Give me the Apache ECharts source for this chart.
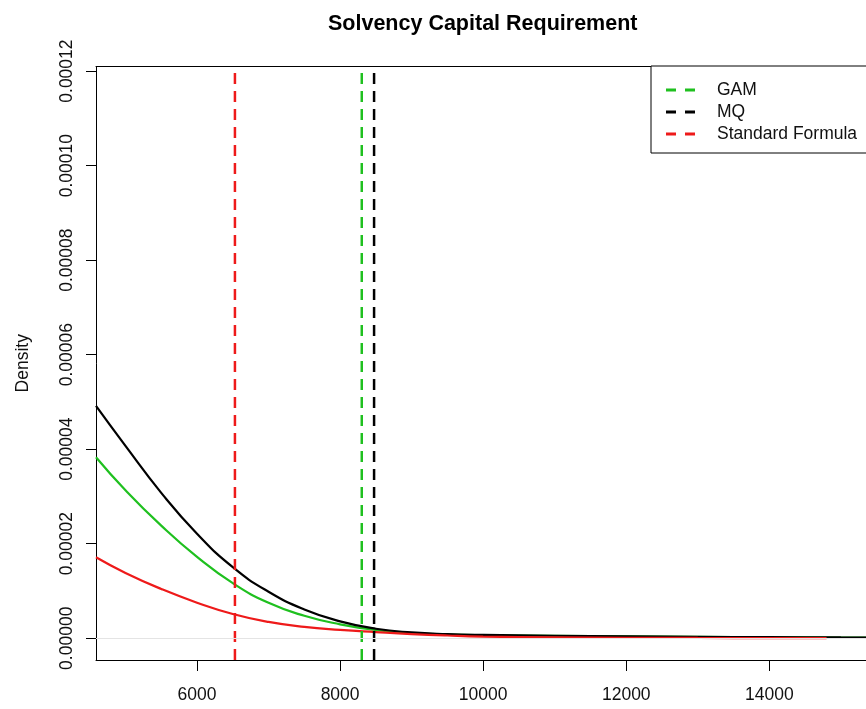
<!DOCTYPE html>
<html>
<head>
<meta charset="utf-8">
<title>Solvency Capital Requirement</title>
<script src="https://cdn.jsdelivr.net/npm/echarts@6/dist/echarts.min.js"></script>
<style>
  html, body { margin: 0; padding: 0; background: #ffffff; }
  #chart { width: 866px; height: 709px; }
</style>
</head>
<body>
<div id="chart"></div>
<script>
// Loss values (x) at which the density curves are sampled
const xGrid = [4588, 5000, 5500, 6000, 6500, 7000, 7500, 8000, 8500, 9000, 9500,
               10000, 11000, 12000, 13000, 14000, 15000, 15351];
// Estimated densities, MQ model
const mqDensity = [4.916e-5, 4.070e-5, 3.077e-5, 2.212e-5, 1.503e-5, 9.84e-6, 6.10e-6,
                   3.58e-6, 2.01e-6, 1.23e-6, 8.7e-7, 7.0e-7, 5.3e-7, 4.2e-7, 3.2e-7,
                   2.3e-7, 1.7e-7, 1.5e-7];
// Estimated densities, GAM model
const gamDensity = [3.831e-5, 3.132e-5, 2.383e-5, 1.721e-5, 1.165e-5, 7.5e-6, 4.75e-6,
                    2.95e-6, 1.75e-6, 1.08e-6, 8.0e-7, 6.6e-7, 5.1e-7, 4.0e-7, 3.0e-7,
                    2.1e-7, 1.5e-7, 1.3e-7];
// Standard formula density is only sampled up to 14800
const xGridSF = [4588, 5000, 5500, 6000, 6500, 7000, 7500, 8000, 8500, 9000, 9500,
                 10000, 11000, 12000, 13000, 14000, 14800];
const sfDensity = [1.714e-5, 1.382e-5, 1.043e-5, 7.53e-6, 5.14e-6, 3.45e-6, 2.39e-6,
                   1.76e-6, 1.3e-6, 8.9e-7, 5.8e-7, 3.6e-7, 1.9e-7, 1.1e-7, 6e-8, 4e-8, 2e-8];

// Solvency capital requirement of each method (vertical dashed lines)
const scrNames = ['GAM', 'MQ', 'Standard Formula'];
const scrValues = [8303, 8475, 6530];

// Axis ticks
const xTicks = [6000, 8000, 10000, 12000, 14000];
const yTicks = [0, 0.00002, 0.00004, 0.00006, 0.00008, 0.00010, 0.00012];

// ---- styling ----
const FONT = '"Liberation Sans", Arial, Helvetica, sans-serif';
const COLORS = { 'GAM': '#1fc01f', 'MQ': '#000000', 'Standard Formula': '#ee1a1a' };
const X_MIN = 4588, X_MAX = 15351;
const Y_MIN = -0.0000046, Y_MAX = 0.00012097;
// two short dashes, used as the legend key of a dashed line
const DASH_ICON = 'path://M0,0h10v3h-10zM19,0h10v3h-10z';

const pairs = (xs, ys) => xs.map((x, i) => [x, ys[i]]);

const curves = [
  { name: 'GAM density', data: pairs(xGrid, gamDensity), color: COLORS['GAM'] },
  { name: 'MQ density', data: pairs(xGrid, mqDensity), color: COLORS['MQ'] },
  { name: 'Standard Formula density', data: pairs(xGridSF, sfDensity), color: COLORS['Standard Formula'] }
].map((c, i) => ({
  type: 'line',
  name: c.name,
  data: c.data,
  symbol: 'none',
  showSymbol: false,
  smooth: 0.5,
  silent: true,
  z: 2 + i * 0.1,
  lineStyle: { color: c.color, width: 2.2 },
  itemStyle: { color: c.color },
  markLine: i === 0 ? {
    silent: true,
    symbol: 'none',
    label: { show: false },
    lineStyle: { color: '#e4e4e4', width: 1, type: 'solid' },
    data: [{ yAxis: 0 }]
  } : undefined
}));

const cutLines = scrNames.map((n, i) => ({
  type: 'line',
  name: n,
  data: [[scrValues[i], Y_MIN], [scrValues[i], Y_MAX]],
  symbol: 'none',
  showSymbol: false,
  silent: true,
  z: 3,
  lineStyle: { color: COLORS[n], width: 2.5, type: [11, 7] },
  itemStyle: { color: COLORS[n] }
}));

const labelText = { fontFamily: FONT, fontSize: 17.5, color: '#111111' };
const frameLine = { show: true, onZero: false, lineStyle: { color: '#000000', width: 1 } };

const option = {
  backgroundColor: '#ffffff',
  animation: false,
  title: {
    text: 'Solvency Capital Requirement',
    left: 328,
    top: 11.5,
    padding: 0,
    textStyle: { fontFamily: FONT, fontSize: 21.5, fontWeight: 'bold', color: '#000000', lineHeight: 26 }
  },
  legend: {
    orient: 'vertical',
    left: 651,
    top: 66,
    padding: [13, 40, 8, 15],
    itemWidth: 29,
    itemHeight: 3,
    itemGap: 0,
    symbolKeepAspect: false,
    borderColor: '#000000',
    borderWidth: 1,
    borderRadius: 0,
    backgroundColor: '#ffffff',
    selectedMode: false,
    icon: DASH_ICON,
    data: scrNames.map(n => ({ name: n, icon: DASH_ICON })),
    textStyle: Object.assign({}, labelText, { lineHeight: 22, padding: [0, 0, 0, 17] })
  },
  grid: {
    left: 96,
    top: 66.5,
    bottom: 49,
    right: 0,
    show: false
  },
  xAxis: [{
    type: 'value',
    position: 'bottom',
    min: X_MIN,
    max: X_MAX,
    splitLine: { show: false },
    axisLine: frameLine,
    axisTick: { show: true, length: 11, customValues: xTicks, lineStyle: { color: '#000000', width: 1 } },
    axisLabel: Object.assign({ customValues: xTicks, margin: 26, formatter: v => String(v) }, labelText)
  }, {
    // top edge of the plot frame
    type: 'value',
    position: 'top',
    min: X_MIN,
    max: X_MAX,
    splitLine: { show: false },
    axisLine: frameLine,
    axisTick: { show: false },
    axisLabel: { show: false }
  }],
  yAxis: {
    type: 'value',
    min: Y_MIN,
    max: Y_MAX,
    name: 'Density',
    nameLocation: 'middle',
    nameRotate: 90,
    nameGap: 64,
    nameTextStyle: labelText,
    splitLine: { show: false },
    axisLine: frameLine,
    axisTick: { show: true, length: 10, customValues: yTicks, lineStyle: { color: '#000000', width: 1 } },
    axisLabel: Object.assign({ customValues: yTicks, rotate: 90, margin: 20, formatter: v => v.toFixed(5) }, labelText)
  },
  series: curves.concat(cutLines)
};

const chart = echarts.init(document.getElementById('chart'));
chart.setOption(option);
</script>
</body>
</html>
